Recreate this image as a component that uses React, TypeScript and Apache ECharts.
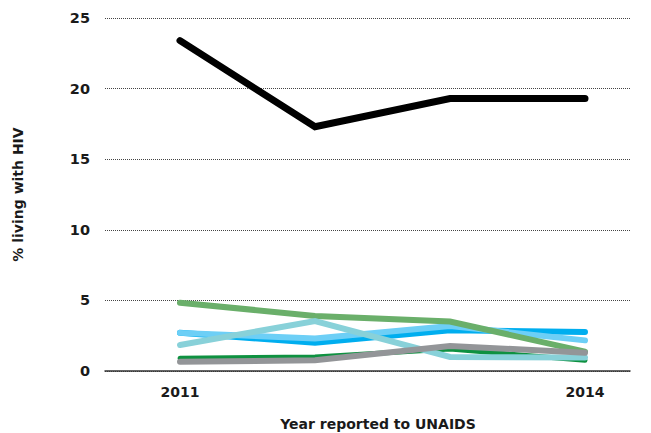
import React, { useEffect, useRef } from "react";
import * as echarts from "echarts";

const years = [2011, 2012, 2013, 2014];
const yTicks = [0, 5, 10, 15, 20, 25];
const xLabelYears = [2011, 2014];

const seriesDarkGreen = [0.9, 1.0, 1.55, 0.76];
const seriesBlue = [2.71, 2.0, 2.88, 2.76];
const seriesLightBlue = [2.7, 2.3, 3.19, 2.17];
const seriesGreen = [4.84, 3.9, 3.5, 1.37];
const seriesTeal = [1.84, 3.54, 0.99, 0.95];
const seriesGray = [0.66, 0.76, 1.77, 1.3];
const seriesBlack = [23.4, 17.3, 19.3, 19.3];

const lines = [
  { name: "A", data: seriesDarkGreen, color: "#0e9140", width: 5 },
  { name: "B", data: seriesBlue, color: "#00aeef", width: 6 },
  { name: "C", data: seriesLightBlue, color: "#6dcff6", width: 6 },
  { name: "D", data: seriesGreen, color: "#6aaf6a", width: 6 },
  { name: "E", data: seriesTeal, color: "#88d1d9", width: 6 },
  { name: "F", data: seriesGray, color: "#939598", width: 6 },
  { name: "G", data: seriesBlack, color: "#000000", width: 7 },
];

const FONT = "'DejaVu Sans', sans-serif";

export default function App() {
  const ref = useRef<HTMLDivElement>(null);
  useEffect(() => {
    if (!ref.current) return;
    const chart = echarts.init(ref.current, null, { renderer: "svg" });
    chart.setOption({
      animation: false,
      backgroundColor: "#ffffff",
      grid: { left: 105, right: 21, top: 18, bottom: 62 },
      xAxis: {
        type: "value",
        min: 2010.4444,
        max: 2014.3333,
        axisLine: { show: true, lineStyle: { color: "#333333", width: 1.5 } },
        axisTick: { show: false },
        splitLine: { show: false },
        axisLabel: {
          customValues: xLabelYears,
          formatter: (v: number) => String(Math.round(v)),
          color: "#1a1a1a",
          fontFamily: FONT,
          fontWeight: "bold",
          fontSize: 14,
          margin: 14,
        },
      },
      yAxis: {
        type: "value",
        min: 0,
        max: 25,
        interval: 5,
        axisLine: { show: false },
        axisTick: { show: false },
        splitLine: { show: true, lineStyle: { type: "dotted", color: "#444444", width: 1 } },
        axisLabel: {
          formatter: (v: number) => (yTicks.includes(v) ? String(v) : ""),
          color: "#1a1a1a",
          fontFamily: FONT,
          fontWeight: "bold",
          fontSize: 14.5,
          margin: 15,
        },
        name: "% living with HIV",
        nameLocation: "middle",
        nameGap: 80,
        nameTextStyle: {
          color: "#1a1a1a",
          fontFamily: FONT,
          fontWeight: "bold",
          fontSize: 14,
        },
      },
      graphic: [
        {
          type: "text",
          x: 378,
          y: 424,
          style: {
            text: "Year reported to UNAIDS",
            fill: "#1a1a1a",
            font: `bold 14px ${FONT}`,
            align: "center",
            verticalAlign: "middle",
          },
        },
      ],
      series: lines.map((l) => ({
        name: l.name,
        type: "line",
        data: l.data.map((v, i) => [years[i], v]),
        showSymbol: false,
        symbol: "none",
        lineStyle: { color: l.color, width: l.width, cap: "round", join: "miter" },
        itemStyle: { color: l.color },
      })),
    });
    return () => chart.dispose();
  }, []);
  return (
    <div
      ref={ref}
      style={{ position: "fixed", left: 0, top: 0, width: 651, height: 433 }}
    />
  );
}
